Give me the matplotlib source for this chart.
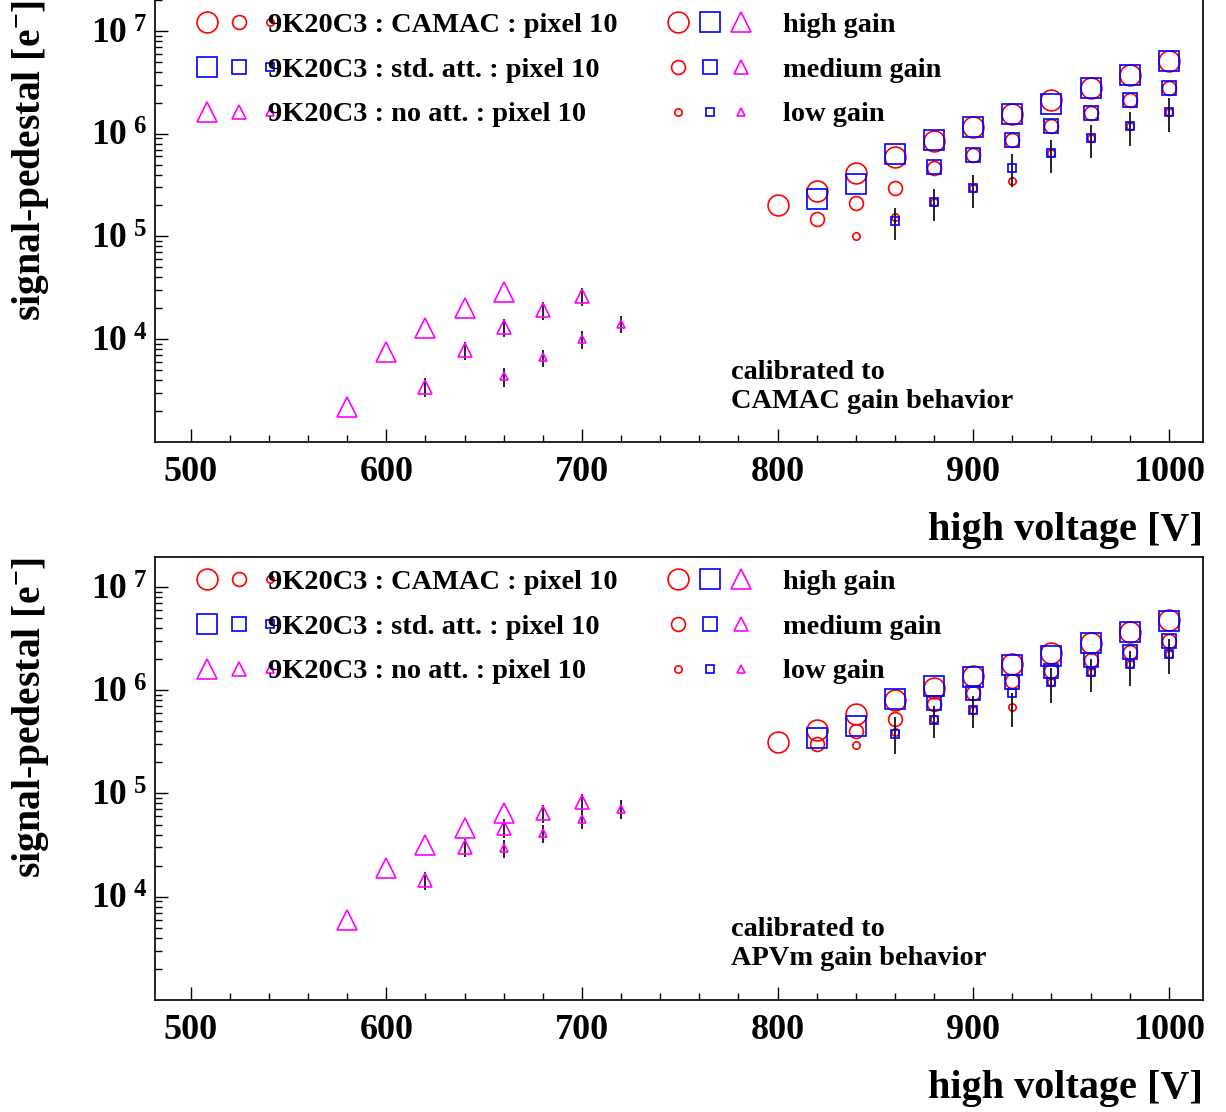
import numpy as np
import matplotlib
matplotlib.use('Agg')
import matplotlib.pyplot as plt
from matplotlib.lines import Line2D
from matplotlib.legend_handler import HandlerTuple
from matplotlib.ticker import FixedLocator, FixedFormatter, LogLocator, MultipleLocator, NullFormatter

plt.rcParams['font.family'] = 'Liberation Serif'
plt.rcParams['font.weight'] = 'bold'
plt.rcParams['mathtext.fontset'] = 'custom'
for k in ('rm', 'it', 'bf', 'sf'):
    plt.rcParams['mathtext.' + k] = 'Liberation Serif:bold'

# high voltage settings [V]
hv_camac_high = [800, 820, 840, 860, 880, 900, 920, 940, 960, 980, 1000]
hv_camac_med = [820, 840, 860, 880, 900, 920, 940, 960, 980, 1000]
hv_camac_low = [840, 860, 880, 900, 920, 940, 960, 980, 1000]
hv_std_high = [820, 840, 860, 880, 900, 920, 940, 960, 980, 1000]
hv_std_med = [880, 900, 920, 940, 960, 980, 1000]
hv_std_low = [860, 880, 900, 920, 940, 960, 980, 1000]
hv_noatt_high = [580, 600, 620, 640, 660]
hv_noatt_med = [620, 640, 660, 680, 700]
hv_noatt_low = [660, 680, 700, 720]

# calibrated to CAMAC gain behaviour
camac_high_a = [2.0e5, 2.77e5, 4.17e5, 5.94e5, 8.55e5, 1.15e6, 1.54e6, 2.1e6, 2.75e6, 3.7e6, 5.1e6]
camac_med_a = [1.49e5, 2.09e5, 2.95e5, 4.58e5, 6.2e5, 8.7e5, 1.19e6, 1.59e6, 2.1e6, 2.79e6]
camac_low_a = [1.0e5, 1.53e5, 2.18e5, 2.95e5, 3.48e5, 6.55e5, 9.0e5, 1.18e6, 1.64e6]
std_high_a = [2.33e5, 3.26e5, 6.27e5, 8.75e5, 1.15e6, 1.54e6, 1.96e6, 2.75e6, 3.7e6, 5.1e6]
std_med_a = [4.69e5, 6.2e5, 8.7e5, 1.19e6, 1.59e6, 2.1e6, 2.79e6]
std_low_a = [1.40e5, 2.18e5, 2.95e5, 4.66e5, 6.55e5, 9.02e5, 1.18e6, 1.64e6]
std_low_elo_a = [4.7e4, 7.6e4, 1.04e5, 1.66e5, 2.38e5, 3.2e5, 4.3e5, 6.0e5]
std_low_ehi_a = [4.8e4, 6.9e4, 1.03e5, 1.61e5, 2.2e5, 3.2e5, 4.3e5, 5.8e5]
noatt_high_a = [2.2e3, 7.45e3, 1.28e4, 1.99e4, 2.88e4]
noatt_med_a = [3.46e3, 7.85e3, 1.31e4, 1.93e4, 2.61e4]
noatt_med_err_a = [0.7e3, 1.6e3, 2.6e3, 3.9e3, 5.2e3]
noatt_low_a = [4.35e3, 6.64e3, 1.0e4, 1.42e4]
noatt_low_err_a = [0.9e3, 1.3e3, 2.0e3, 2.8e3]

# calibrated to APVm gain behaviour
camac_high_b = [3.13e5, 4.13e5, 5.85e5, 8.06e5, 1.06e6, 1.37e6, 1.8e6, 2.28e6, 2.88e6, 3.69e6, 4.76e6]
camac_med_b = [3.0e5, 4.04e5, 5.23e5, 7.37e5, 9.35e5, 1.23e6, 1.55e6, 1.97e6, 2.37e6, 2.97e6]
camac_low_b = [2.94e5, 3.97e5, 5.23e5, 6.45e5, 6.9e5, 1.19e6, 1.51e6, 1.78e6, 2.26e6]
std_high_b = [3.46e5, 4.54e5, 8.29e5, 1.1e6, 1.35e6, 1.77e6, 2.15e6, 2.89e6, 3.7e6, 4.73e6]
std_med_b = [7.59e5, 9.35e5, 1.21e6, 1.55e6, 1.97e6, 2.37e6, 2.97e6]
std_low_b = [3.78e5, 5.2e5, 6.4e5, 9.36e5, 1.19e6, 1.51e6, 1.78e6, 2.26e6]
std_low_elo_b = [1.36e5, 1.77e5, 2.11e5, 4.92e5, 4.37e5, 5.58e5, 6.8e5, 8.26e5]
std_low_ehi_b = [1.77e5, 1.91e5, 2.42e5, 1.2e4, 4.37e5, 5.1e5, 6.31e5, 8.74e5]
noatt_high_b = [5.91e3, 1.89e4, 3.16e4, 4.67e4, 6.46e4]
noatt_med_b = [1.44e4, 3.04e4, 4.67e4, 6.49e4, 8.21e4]
noatt_med_err_b = [2.9e3, 6.1e3, 9.3e3, 1.3e4, 1.64e4]
noatt_low_b = [2.94e4, 4.12e4, 5.61e4, 7.13e4]
noatt_low_err_b = [5.8e3, 8.3e3, 1.12e4, 1.42e4]

ytick_vals = [1e4, 1e5, 1e6, 1e7]
ytick_labels = [r'$10^{\ 4}$', r'$10^{\ 5}$', r'$10^{\ 6}$', r'$10^{\ 7}$']
xtick_vals = [500, 600, 700, 800, 900, 1000]

set_labels = ['9K20C3 : CAMAC : pixel 10', '9K20C3 : std. att. : pixel 10', '9K20C3 : no att. : pixel 10']
gain_labels = ['high gain', 'medium gain', 'low gain']
calib_notes = ['calibrated to\nCAMAC gain behavior', 'calibrated to\nAPVm gain behavior']

RED, BLUE, MAG = '#ff0000', '#0000ff', '#ff00ff'
MS = [15.0, 10.0, 5.3]   # marker size per gain
MEW = 1.2
FS_TXT = 20.4            # legend / note text size
FS_PX = FS_TXT * 100 / 72

W, H = 1226, 1112
fig = plt.figure(figsize=(W / 100, H / 100), dpi=100)

# pixel geometry of the two frames (x0, x1, y_top, y_bottom)
X0, X1 = 154.5, 1203.0
top_box = (-10.3, 442.0)
bot_box = (557.0, 1000.0)


def make_axes(box):
    y0, y1 = box
    return fig.add_axes([X0 / W, (H - y1) / H, (X1 - X0) / W, (y1 - y0) / H])


ax_top = make_axes(top_box)
ax_bot = make_axes(bot_box)

panels = [
    (ax_top, top_box, 10 ** 7.4, camac_high_a, camac_med_a, camac_low_a, std_high_a, std_med_a, std_low_a,
     std_low_elo_a, std_low_ehi_a, noatt_high_a, noatt_med_a, noatt_med_err_a, noatt_low_a, noatt_low_err_a,
     calib_notes[0], 0.0, 408.0, 12.0),
    (ax_bot, bot_box, 10 ** 7.29, camac_high_b, camac_med_b, camac_low_b, std_high_b, std_med_b, std_low_b,
     std_low_elo_b, std_low_ehi_b, noatt_high_b, noatt_med_b, noatt_med_err_b, noatt_low_b, noatt_low_err_b,
     calib_notes[1], 557.0, 965.0, 569.0),
]


def pts(ax, x, y, marker, ms, color):
    ax.plot(x, y, ls='none', marker=marker, ms=ms, mfc='none', mec=color, mew=MEW)


def errpts(ax, x, y, err, marker, ms, color):
    ax.errorbar(x, y, yerr=err, fmt='none', ecolor='black', elinewidth=1.2, capsize=0)
    pts(ax, x, y, marker, ms, color)


for (ax, box, ytop, c_hi, c_med, c_lo, s_hi, s_med, s_lo, s_elo, s_ehi,
     n_hi, n_med, n_med_err, n_lo, n_lo_err, note, ylab_px, note_px, leg_top) in panels:
    y0, y1 = box
    hpx = y1 - y0

    # CAMAC readout
    pts(ax, hv_camac_high, c_hi, 'o', MS[0], RED)
    pts(ax, hv_camac_med, c_med, 'o', MS[1], RED)
    pts(ax, hv_camac_low, c_lo, 'o', MS[2], RED)
    # standard attenuation
    pts(ax, hv_std_high, s_hi, 's', MS[0], BLUE)
    pts(ax, hv_std_med, s_med, 's', MS[1], BLUE)
    errpts(ax, hv_std_low, s_lo, [s_elo, s_ehi], 's', MS[2], BLUE)
    # no attenuation
    pts(ax, hv_noatt_high, n_hi, '^', MS[0], MAG)
    errpts(ax, hv_noatt_med, n_med, n_med_err, '^', MS[1], MAG)
    errpts(ax, hv_noatt_low, n_lo, n_lo_err, '^', MS[2], MAG)

    ax.set_yscale('log')
    ax.set_xlim(481.5, 1017.5)
    ax.set_ylim(1e3, ytop)

    ax.xaxis.set_major_locator(FixedLocator(xtick_vals))
    ax.xaxis.set_minor_locator(MultipleLocator(20))
    ax.yaxis.set_major_locator(FixedLocator(ytick_vals))
    ax.yaxis.set_major_formatter(FixedFormatter(ytick_labels))
    ax.yaxis.set_minor_locator(LogLocator(base=10, subs=np.arange(2, 10)))
    ax.yaxis.set_minor_formatter(NullFormatter())

    ax.tick_params(which='both', direction='in', top=False, right=False, width=1.0)
    ax.tick_params(which='major', length=9.5)
    ax.tick_params(which='minor', length=4.8)
    ax.tick_params(axis='x', which='major', labelsize=26, pad=10)
    ax.tick_params(axis='y', which='major', labelsize=25.5, pad=5)
    for lab in ax.get_xticklabels() + ax.get_yticklabels():
        lab.set_fontweight('bold')
    for sp in ax.spines.values():
        sp.set_linewidth(1.2)

    ax.set_xlabel('high voltage [V]', fontsize=29, fontweight='bold', ha='right')
    ax.xaxis.set_label_coords(1.0, -70.0 / hpx)
    ax.set_ylabel(r'signal-pedestal [e$^{-}$]', fontsize=28.5, fontweight='bold', ha='right')
    ax.yaxis.set_label_coords((51 - X0) / (X1 - X0), (y1 - ylab_px) / hpx)

    ax.text((731 - X0) / (X1 - X0), (y1 - note_px) / hpx, note, transform=ax.transAxes,
            fontsize=FS_TXT, fontweight='bold', ha='left', va='baseline', linespacing=1.22)

    # legend: data sets, three marker sizes per row
    set_handles = []
    for mk, col in (('o', RED), ('s', BLUE), ('^', MAG)):
        set_handles.append(tuple(Line2D([], [], ls='none', marker=mk, ms=m, mfc='none', mec=col, mew=MEW)
                                 for m in MS))
    gain_handles = []
    for m in MS:
        gain_handles.append(tuple(Line2D([], [], ls='none', marker=mk, ms=m, mfc='none', mec=col, mew=MEW)
                                  for mk, col in (('o', RED), ('s', BLUE), ('^', MAG))))

    common = dict(handler_map={tuple: HandlerTuple(ndivide=None, pad=0)}, loc='upper left',
                  bbox_transform=fig.transFigure, frameon=False, borderpad=0, borderaxespad=0,
                  handlelength=94.5 / FS_PX, labelspacing=0.67,
                  prop={'size': FS_TXT, 'weight': 'bold'})
    leg1 = ax.legend(set_handles, set_labels, bbox_to_anchor=(191.25 / W, 1 - leg_top / H),
                     handletextpad=-17.75 / FS_PX, **common)
    ax.add_artist(leg1)
    ax.legend(gain_handles, gain_labels, bbox_to_anchor=(662.25 / W, 1 - leg_top / H),
              handletextpad=26.25 / FS_PX, **common)

fig.savefig('out.png', dpi=100)
